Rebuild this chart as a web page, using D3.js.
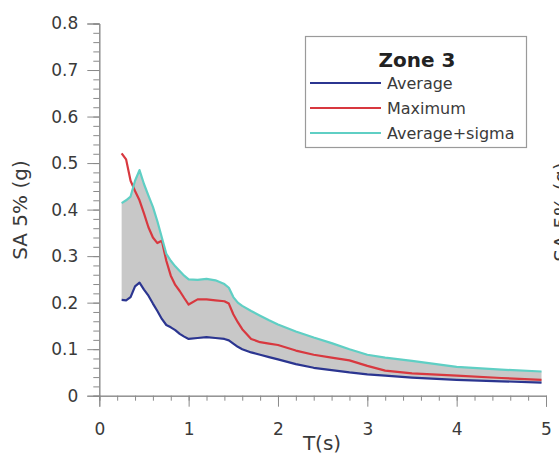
<!DOCTYPE html>
<html><head><meta charset="utf-8">
<script src="https://cdn.jsdelivr.net/npm/d3@7/dist/d3.min.js"></script>
<style>body{margin:0;background:#fff}svg{display:block;font-family:"DejaVu Sans",sans-serif}</style>
</head><body><svg id="c" width="559" height="462"></svg>
<script>
const periods = [0.25,0.3,0.35,0.4,0.45,0.5,0.55,0.6,0.65,0.7,0.75,0.8,0.85,0.9,0.95,1.0,1.1,1.2,1.3,1.4,1.45,1.5,1.55,1.6,1.7,1.8,1.9,2.0,2.2,2.4,2.6,2.8,3.0,3.2,3.5,4.0,4.5,4.95];
const average = [.206,.205,.212,.235,.243,.228,.215,.198,.182,.165,.152,.147,.141,.133,.127,.122,.124,.126,.124,.122,.119,.112,.105,.100,.093,.088,.083,.078,.068,.060,.055,.050,.046,.043,.039,.034,.031,.028];
const maximum = [.521,.508,.462,.440,.420,.392,.362,.340,.328,.333,.290,.258,.238,.225,.210,.196,.207,.207,.205,.203,.198,.175,.158,.143,.122,.115,.112,.109,.097,.088,.082,.076,.064,.054,.048,.043,.038,.034];
const avgSigma = [.414,.420,.428,.462,.485,.455,.430,.406,.375,.340,.305,.290,.278,.268,.258,.250,.249,.251,.248,.240,.232,.212,.200,.193,.182,.172,.162,.153,.138,.125,.113,.100,.088,.082,.075,.062,.056,.052];
const xTicks = [0,1,2,3,4,5];
const yTicks = [0,0.1,0.2,0.3,0.4,0.5,0.6,0.7,0.8];
const seriesNames = ["Average","Maximum","Average+sigma"];
const seriesColors = ["#2b3590","#d8383f","#5fcfc4"];
const legendTitle = "Zone 3";

const svg = d3.select("#c");
const x = d3.scaleLinear().domain([0,5]).range([99.3,546]);
const y = d3.scaleLinear().domain([0,0.8]).range([395.7,23.5]);
const axisCol = "#8a8a8a", textCol = "#3a3a3a";

// band
const rows = periods.map((t,i)=>({t, a:average[i], m:maximum[i], s:avgSigma[i]}));
svg.append("path").datum(rows)
  .attr("d", d3.area().x(d=>x(d.t)).y0(d=>y(d.a)).y1(d=>y(d.s)))
  .attr("fill","#c8c8c8");

// axes: minor ticks
const gxm = svg.append("g").attr("transform",`translate(0,${y(0)})`)
  .call(d3.axisBottom(x).tickValues(d3.range(0,5.001,0.2)).tickSize(5).tickFormat(""));
const gym = svg.append("g").attr("transform",`translate(${x(0)},0)`)
  .call(d3.axisLeft(y).tickValues(d3.range(0,0.8001,0.02)).tickSize(6).tickFormat(""));
const gx = svg.append("g").attr("transform",`translate(0,${y(0)})`)
  .call(d3.axisBottom(x).tickValues(xTicks).tickSize(11).tickPadding(13).tickFormat(d3.format("d")));
const gy = svg.append("g").attr("transform",`translate(${x(0)},0)`)
  .call(d3.axisLeft(y).tickValues(yTicks).tickSize(12).tickPadding(9).tickFormat(d=>d===0?"0":d3.format(".1f")(d)));
[gxm,gym,gx,gy].forEach(g=>{
  g.selectAll("path.domain").attr("stroke",axisCol).attr("stroke-width",1);
  g.selectAll(".tick line").attr("stroke",axisCol);
  g.selectAll("text").attr("fill",textCol).style("font-family","DejaVu Sans").style("font-size","17px");
});
gx.selectAll("text").attr("dy","0.9em");

// lines
const line = key => d3.line().x(d=>x(d.t)).y(d=>y(d[key]));
[["a",0],["m",1],["s",2]].forEach(([k,i])=>{
  svg.append("path").datum(rows).attr("d",line(k)).attr("fill","none")
    .attr("stroke",seriesColors[i]).attr("stroke-width",2.2).attr("stroke-linejoin","round");
});

// axis titles
svg.append("text").attr("transform","translate(27,210) rotate(-90)").attr("text-anchor","middle")
  .attr("fill",textCol).style("font-size","20px").text("SA 5% (g)");
svg.append("text").attr("x",322).attr("y",450).attr("text-anchor","middle")
  .attr("fill",textCol).style("font-size","20px").text("T(s)");
// cut-off neighbour label at right edge (as in the reference)
svg.append("text").attr("transform","translate(568,212) rotate(-90)").attr("text-anchor","middle")
  .attr("fill",textCol).style("font-size","20px").text("SA 5% (g)");

// legend
const lg = svg.append("g");
lg.append("rect").attr("x",305.5).attr("y",36.5).attr("width",221).attr("height",111)
  .attr("fill","#fff").attr("stroke","#9a9a9a").attr("stroke-width",1.2);
lg.append("text").attr("x",417).attr("y",66.5).attr("text-anchor","middle")
  .style("font-size","20px").style("font-weight","bold").attr("fill","#222").text(legendTitle);
seriesNames.forEach((n,i)=>{
  const yy = 83 + i*25;
  lg.append("line").attr("x1",310).attr("x2",381).attr("y1",yy).attr("y2",yy)
    .attr("stroke",seriesColors[i]).attr("stroke-width",2.2);
  lg.append("text").attr("x",387).attr("y",yy+5.5).style("font-size","16px")
    .attr("fill",textCol).text(n);
});
</script></body></html>
